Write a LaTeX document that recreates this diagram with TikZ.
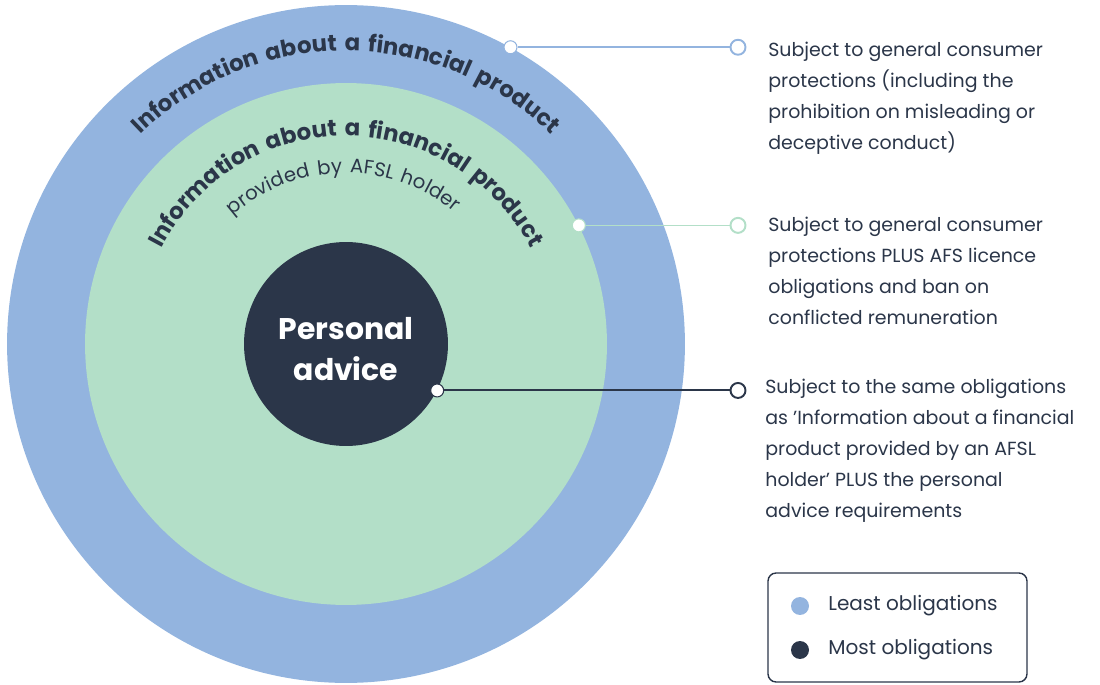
\documentclass[tikz,border=0pt]{standalone}
\usepackage{fontspec}
\setmainfont{Poppins}
\newfontfamily\arcfont[LetterSpace=12]{Poppins}
\usetikzlibrary{decorations.text}
\definecolor{blueC}{HTML}{93B4DF}
\definecolor{greenC}{HTML}{B3DFC8}
\definecolor{navy}{HTML}{2B3649}
\begin{document}
\begin{tikzpicture}[x=0.02cm,y=0.02cm,
  ring/.style={circle, inner sep=0pt, draw=none},
  startdot/.style={circle, fill=white, inner sep=0pt, minimum size=0.26cm, line width=0.6pt},
  enddot/.style={circle, fill=white, inner sep=0pt, minimum size=0.3cm, line width=1.1pt},
  desc/.style={anchor=west, align=left, inner sep=0pt, text=navy, font=\fontsize{10.8pt}{17.6pt}\selectfont},
  legtext/.style={anchor=west, inner sep=0pt, text=navy, font=\fontsize{11.4pt}{13pt}\selectfont},
  legdot/.style={circle, inner sep=0pt, minimum size=0.36cm}]
\useasboundingbox (0,0) rectangle (1100,684);
\coordinate (c) at (346,340);
\node[ring, fill=blueC, minimum size=13.56cm] (outer) at (c) {};
\node[ring, fill=greenC, minimum size=10.44cm] (mid) at (c) {};
\node[ring, fill=navy, minimum size=4.08cm] (inner) at (c) {};
\node[text=white, align=center, font=\fontsize{17pt}{23.8pt}\selectfont\bfseries] (pa) at (346,335) {Personal\\advice};
% curved labels
\path[decorate, decoration={text along path, text align=center, text color=navy,
  text={|\arcfont\fontsize{13pt}{15pt}\selectfont\bfseries|Information about a financial product}}]
  (c) ++(178:293) arc[start angle=178, end angle=2, radius=293];
\path[decorate, decoration={text along path, text align=center, text color=navy,
  text={|\arcfont\fontsize{13pt}{15pt}\selectfont\bfseries|Information about a financial product}}]
  (c) ++(180:208) arc[start angle=180, end angle=0, radius=208];
\path[decorate, decoration={text along path, text align=center, text color=navy,
  text={|\arcfont\fontsize{11.2pt}{13pt}\selectfont|provided by AFSL holder}}]
  (c) ++(182:171) arc[start angle=182, end angle=0, radius=171];
% connectors
\coordinate (xe) at (738,0);
\node[startdot, draw=blueC] (d1) at (outer.61.2) {};
\node[startdot, draw=greenC] (d2) at (mid.27.55) {};
\node[startdot, draw=navy] (d3) at (inner.-27.6) {};
\node[enddot, draw=blueC] (e1) at (d1 -| xe) {};
\node[enddot, draw=greenC] (e2) at (d2 -| xe) {};
\node[enddot, draw=navy] (e3) at (d3 -| xe) {};
\draw[blueC, line width=0.9pt] (d1) -- (e1);
\draw[greenC, line width=0.9pt] (d2) -- (e2);
\draw[navy, line width=1.1pt] (d3) -- (e3);
% descriptions
\node[desc] (t1) at (768,586) {Subject to general consumer\\protections (including the\\prohibition on misleading or\\deceptive conduct)};
\node[desc] (t2) at (768,413) {Subject to general consumer\\protections PLUS AFS licence\\obligations and ban on\\conflicted remuneration};
\node[desc] (t3) at (765,233) {Subject to the same obligations\\as 'Information about a financial\\product provided by an AFSL\\holder' PLUS the personal\\advice requirements};
% legend
\node[draw=navy, line width=0.8pt, rounded corners=0.16cm, minimum width=5.18cm, minimum height=2.18cm, inner sep=0pt] (leg) at (897.5,56.5) {};
\node[legdot, fill=blueC] (l1) at (800,78) {};
\node[legdot, fill=navy] (l2) at (800,34) {};
\node[legtext] (lt1) at (828,78) {Least obligations};
\node[legtext] (lt2) at (828,34) {Most obligations};
\end{tikzpicture}
\end{document}
